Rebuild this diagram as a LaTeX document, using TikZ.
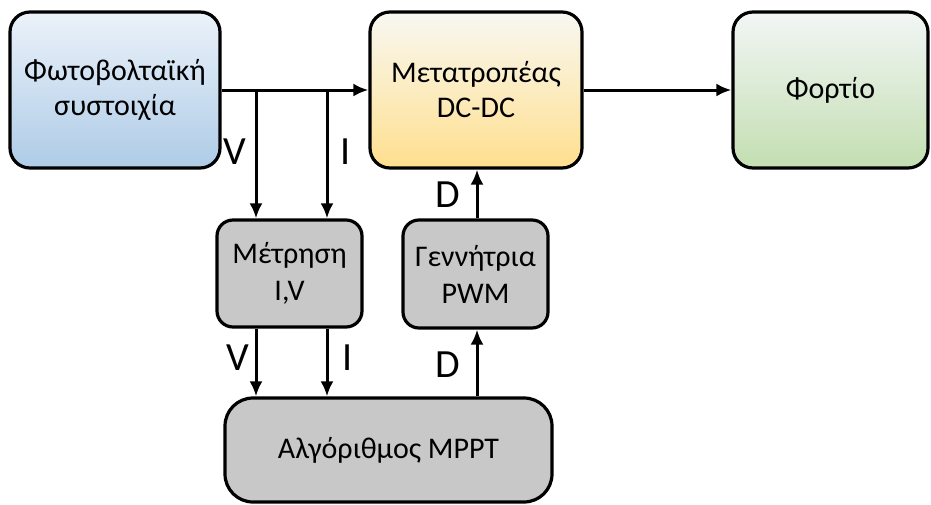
\documentclass[tikz,border=0pt]{standalone}
\usepackage{fontspec}
\setmainfont{Carlito}
\usetikzlibrary{arrows.meta}
\definecolor{pvtop}{HTML}{EBF2FA}
\definecolor{pvbot}{HTML}{AECBE7}
\definecolor{cvtop}{HTML}{F8F8F2}
\definecolor{cvbot}{HTML}{FFDF8E}
\definecolor{ldtop}{HTML}{F2F6F6}
\definecolor{ldbot}{HTML}{C3DEB1}
\definecolor{grayfill}{HTML}{C8C8C8}
\tikzset{
  blk/.style={draw=black, line width=3.2pt, rounded corners=20pt, align=center,
    font=\fontsize{30}{35}\selectfont, inner sep=0pt},
  smallblk/.style={blk, fill=grayfill, rounded corners=16pt},
  arr/.style={line width=3pt, -{Latex[length=15pt,width=13pt]}},
  lbl/.style={font=\fontsize{40}{44}\selectfont, inner sep=0pt}
}
\begin{document}
\begin{tikzpicture}[x=1pt,y=-1pt]
\useasboundingbox (0,0) rectangle (931,504);
\node[blk, top color=pvtop, bottom color=pvbot, minimum width=210pt, minimum height=156pt] (pv) at (115,90) {Φωτοβολταϊκή\\συστοιχία};
\node[blk, top color=cvtop, bottom color=cvbot, minimum width=212pt, minimum height=156pt] (conv) at (476,90) {Μετατροπέας\\DC-DC};
\node[blk, top color=ldtop, bottom color=ldbot, minimum width=195pt, minimum height=156pt] (load) at (830.5,90) {Φορτίο};
\node[smallblk, minimum width=145pt, minimum height=107pt] (meas) at (289.5,273.5) {Μέτρηση\\[2pt]I,V};
\node[smallblk, minimum width=145pt, minimum height=108pt] (pwm) at (475.5,274) {Γεννήτρια\\[2pt]PWM};
\node[smallblk, rounded corners=28pt, minimum width=327pt, minimum height=104pt] (mppt) at (388.5,450) {Αλγόριθμος MPPT};

\coordinate (bv) at (256,90);
\coordinate (bi) at (327,90);
\coordinate (bd) at (477,90);

\draw[arr] (pv.east) -- (conv.west);
\draw[arr] (conv.east) -- (load.west);
\draw[arr] (bv) -- (bv |- meas.north);
\draw[arr] (bi) -- (bi |- meas.north);
\draw[arr] (bv |- meas.south) -- (bv |- mppt.north);
\draw[arr] (bi |- meas.south) -- (bi |- mppt.north);
\draw[arr] (bd |- mppt.north) -- (bd |- pwm.south);
\draw[arr] (bd |- pwm.north) -- (bd |- conv.south);

\node[lbl] (lv1) at (235,152) {V};
\node[lbl] (li1) at (346,152) {I};
\node[lbl] (lv2) at (238,358) {V};
\node[lbl] (li2) at (348,358) {I};
\node[lbl] (ld1) at (448,195) {D};
\node[lbl] (ld2) at (448,365) {D};
\end{tikzpicture}
\end{document}
